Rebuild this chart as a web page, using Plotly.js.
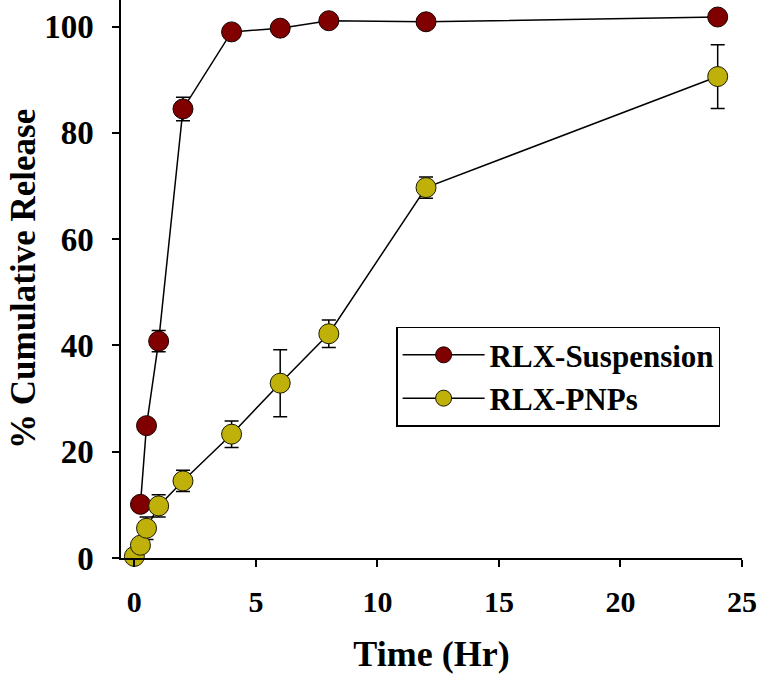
<!DOCTYPE html>
<html>
<head>
<meta charset="utf-8">
<script src="https://cdn.plot.ly/plotly-3.0.1.min.js"></script>
<style>
  html, body { margin: 0; padding: 0; background: #fff; }
  #chart { width: 757px; height: 676px; }
</style>
</head>
<body>
<div id="chart"></div>
<script>
// Zeitpunkte (Hr)
var suspTime = [0.25, 0.5, 1, 2, 4, 6, 8, 12, 24];
var suspRelease = [10.1, 24.9, 40.8, 84.5, 99.0, 99.7, 101.1, 100.9, 101.8];
var suspErr = [0.6, 0.6, 2.0, 2.2, 0.5, 0.5, 0.5, 0.5, 0.5];

var pnpTime = [0, 0.25, 0.5, 1, 2, 4, 6, 8, 12, 24];
var pnpRelease = [0.3, 2.4, 5.6, 9.8, 14.5, 23.3, 32.9, 42.2, 69.7, 90.6];
var pnpErr = [0.3, 0.8, 2.1, 2.1, 2.0, 2.5, 6.3, 2.6, 2.0, 6.0];

var xTicks = [0, 5, 10, 15, 20, 25];
var yTicks = [0, 20, 40, 60, 80, 100];

var font = "Liberation Serif, Times New Roman, serif";

var trace1 = {
  x: suspTime,
  y: suspRelease,
  name: "RLX-Suspension",
  type: "scatter",
  mode: "lines+markers",
  cliponaxis: false,
  line: { color: "#000", width: 1.5 },
  marker: { color: "#800000", size: 20, line: { color: "#1a0000", width: 1 } },
  error_y: { type: "data", array: suspErr, visible: true, color: "#000", thickness: 1.5, width: 7 }
};

var trace2 = {
  x: pnpTime,
  y: pnpRelease,
  name: "RLX-PNPs",
  type: "scatter",
  mode: "lines+markers",
  cliponaxis: false,
  line: { color: "#000", width: 1.5 },
  marker: { color: "#BFB00A", size: 20, line: { color: "#1a1a00", width: 1 } },
  error_y: { type: "data", array: pnpErr, visible: true, color: "#000", thickness: 1.5, width: 7 }
};

var layout = {
  width: 757,
  height: 676,
  plot_bgcolor: "#fff",
  paper_bgcolor: "#fff",
  margin: { l: 121, r: 15, t: 0, b: 118 },
  font: { family: font, color: "#000" },
  showlegend: true,
  legend: {
    x: 0.443, y: 0.4145, xanchor: "left", yanchor: "top",
    bgcolor: "#fff", bordercolor: "#000", borderwidth: 1.5,
    font: { family: font, size: 31, weight: "bold", color: "#000" },
    itemwidth: 82
  },
  xaxis: {
    range: [-0.55, 25],
    tickvals: xTicks,
    ticks: "outside", ticklen: 7, tickwidth: 1.5, tickcolor: "#000",
    showline: true, linecolor: "#000", linewidth: 1.5,
    showgrid: false, zeroline: false,
    ticklabelstandoff: 9,
    tickfont: { family: font, size: 30, weight: "bold" },
    title: { text: "Time (Hr)", standoff: 24, font: { family: font, size: 36, weight: "bold" } }
  },
  yaxis: {
    range: [0, 105],
    tickvals: yTicks,
    ticks: "outside", ticklen: 7, tickwidth: 1.5, tickcolor: "#000",
    showline: true, linecolor: "#000", linewidth: 1.5,
    showgrid: false, zeroline: false,
    ticklabelstandoff: 12,
    tickfont: { family: font, size: 33, weight: "bold" }
  },
  // y-Titel als Annotation, damit er weiter links sitzen kann
  annotations: [{
    text: "% Cumulative Release",
    xref: "paper", yref: "paper",
    x: 0, y: 0.5, xanchor: "center", yanchor: "middle",
    xshift: -98, textangle: -90, showarrow: false, borderpad: 0,
    font: { family: font, size: 35, weight: "bold", color: "#000" }
  }]
};

Plotly.newPlot("chart", [trace1, trace2], layout, { displayModeBar: false });
</script>
</body>
</html>
